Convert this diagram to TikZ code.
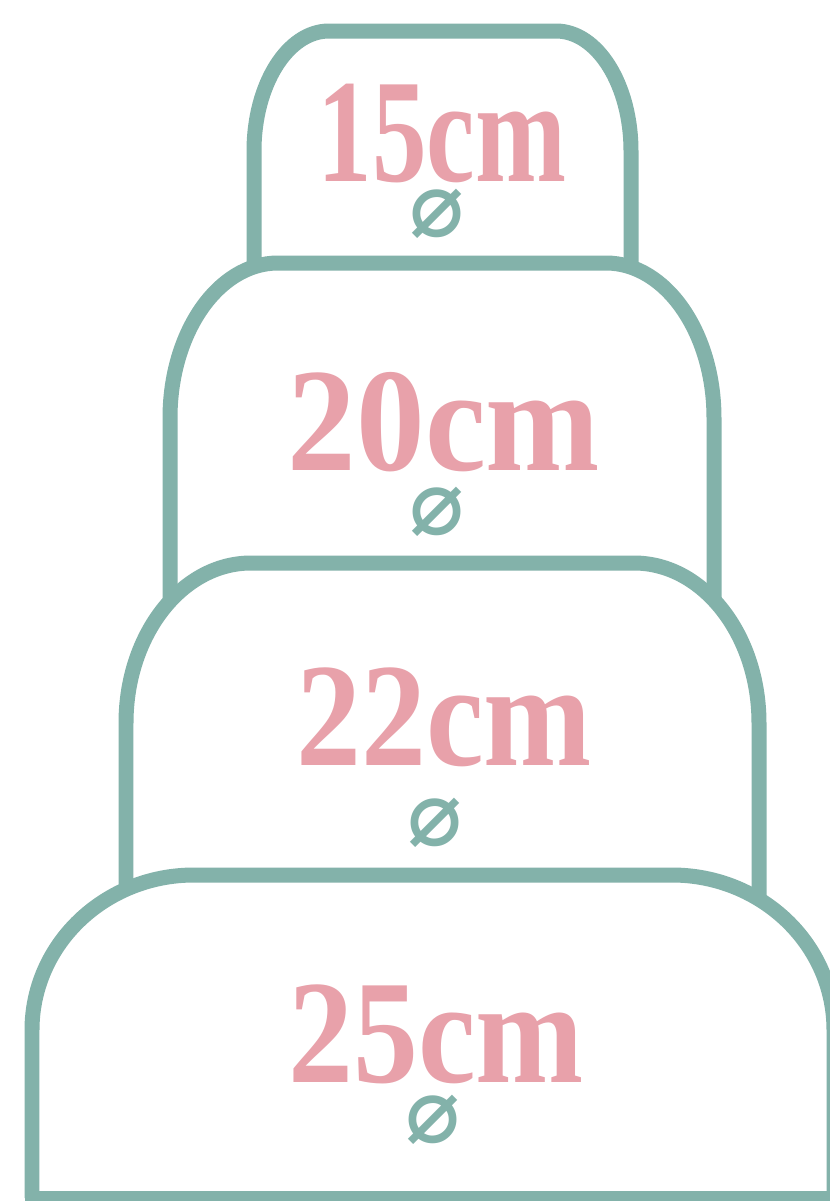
\documentclass[tikz,border=0pt]{standalone}
\usepackage{fontspec}
\setmainfont{Liberation Serif}
\newfontfamily\diamfont{DejaVu Sans}
\usepackage{tikz}
\usetikzlibrary{positioning}
\definecolor{cakegreen}{RGB}{131,178,170}
\definecolor{cakepink}{RGB}{232,161,170}
\newcommand{\tiersize}[2][0.88]{\scalebox{#1}[1]{#2}}

\begin{document}
\begin{tikzpicture}[
    x=0.02cm, y=-0.02cm,
    tierline/.style={draw=cakegreen, line width=0.3cm},
    sizelabel/.style={text=cakepink, anchor=base, inner sep=0pt,
        font=\bfseries\fontsize{84}{84}\selectfont},
    diamlabel/.style={text=cakegreen, inner sep=0pt,
        font=\diamfont\bfseries\fontsize{52}{52}\selectfont}
]
\useasboundingbox (0,0) rectangle (829,1201);
% tiers: left/right/top/bottom/corner radii
\foreach \l/\r/\t/\b/\rx/\ry in {254/631/31/285/75/120,
    170/714/263/610/108/155, 126/759/563/905/125/160,
    32/834/875/1198/162/155}{
  \fill[white] (\l,\b) -- ({\l},{\t+\ry})
    .. controls ({\l},{\t+0.448*\ry}) and ({\l+0.448*\rx},{\t}) .. ({\l+\rx},{\t})
    -- ({\r-\rx},{\t})
    .. controls ({\r-0.448*\rx},{\t}) and ({\r},{\t+0.448*\ry}) .. ({\r},{\t+\ry})
    -- (\r,\b) -- cycle;
  \draw[tierline] (\l,\b) -- ({\l},{\t+\ry})
    .. controls ({\l},{\t+0.448*\ry}) and ({\l+0.448*\rx},{\t}) .. ({\l+\rx},{\t})
    -- ({\r-\rx},{\t})
    .. controls ({\r-0.448*\rx},{\t}) and ({\r},{\t+0.448*\ry}) .. ({\r},{\t+\ry})
    -- (\r,\b);
}
\draw[tierline, line cap=rect] (32,1198) -- (834,1198);

% sizes
\node[sizelabel] (size15) at (442,181) {\tiersize[0.74]{15cm}};
\node[sizelabel] (size20) at (444,470) {\tiersize[0.93]{20cm}};
\node[sizelabel] (size22) at (444,765) {\tiersize{22cm}};
\node[sizelabel] (size25) at (436,1082) {\tiersize{25cm}};
\node[diamlabel] (diam15) at (437,214) {⌀};
\node[diamlabel] (diam20) at (437,512) {⌀};
\node[diamlabel] (diam22) at (435,823) {⌀};
\node[diamlabel] (diam25) at (433,1120) {⌀};
\end{tikzpicture}
\end{document}
